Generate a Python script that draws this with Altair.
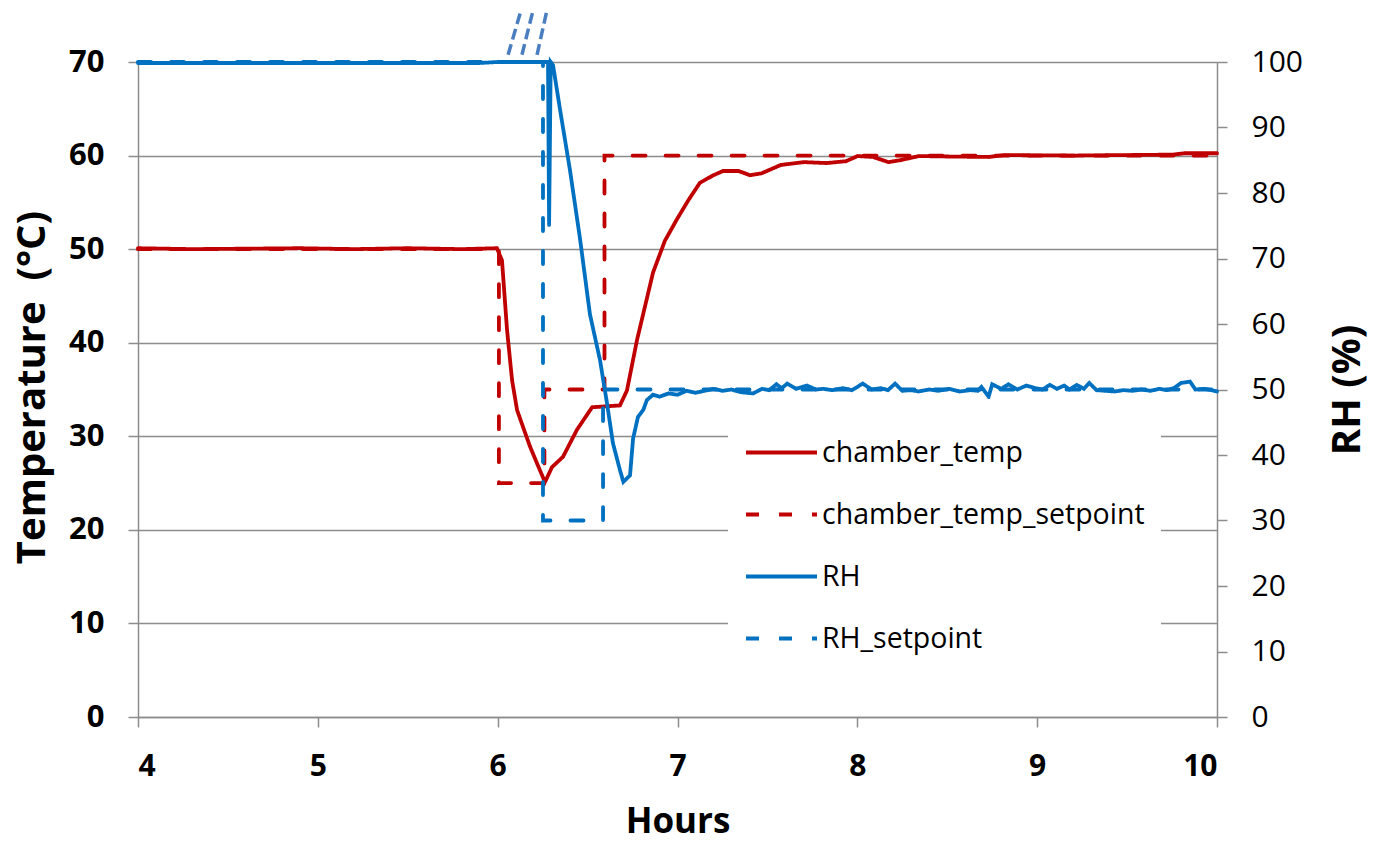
import altair as alt
import pandas as pd

# ---------------- data ----------------
series_names = ["chamber_temp", "chamber_temp_setpoint", "RH", "RH_setpoint"]
series_colors = ["#C00000", "#C00000", "#0070C0", "#0070C0"]
series_dashes = [[1, 0], [13, 20], [1, 0], [13, 20]]

temp_hours = [4.0, 4.3, 4.6, 4.9, 5.2, 5.5, 5.8, 5.996, 6.024, 6.052, 6.080, 6.108,
              6.141, 6.180, 6.219, 6.263, 6.302, 6.363, 6.441, 6.525, 6.60, 6.680,
              6.719, 6.775, 6.864, 6.93, 6.997, 7.061, 7.125, 7.20, 7.253, 7.339,
              7.403, 7.467, 7.575, 7.704, 7.831, 7.937, 8.002, 8.087, 8.173, 8.237,
              8.343, 8.50, 8.73, 8.816, 9.2, 9.755, 9.82, 10.0]
temp_values = [50.1, 50.0, 50.05, 50.1, 50.0, 50.1, 50.0, 50.1, 48.8, 41.4, 36.0, 32.8,
               31.0, 28.9, 27.1, 25.1, 26.7, 27.8, 30.7, 33.1, 33.2, 33.3,
               34.9, 40.3, 47.5, 50.9, 53.2, 55.25, 57.1, 57.9, 58.35, 58.35,
               57.9, 58.1, 59.0, 59.3, 59.2, 59.4, 59.95, 59.85, 59.3, 59.5,
               59.95, 59.9, 59.85, 60.05, 60.0, 60.1, 60.25, 60.25]

temp_sp_hours = [4.0, 6.007, 6.007, 6.26, 6.26, 6.594, 6.594, 10.0]
temp_sp_values = [50, 50, 25, 25, 35, 35, 60, 60]

rh_hours = [4.0, 5.9, 6.0, 6.28, 6.286, 6.295, 6.308, 6.347, 6.402, 6.458, 6.513,
            6.569, 6.608, 6.641, 6.680, 6.699, 6.736, 6.753, 6.780, 6.81, 6.83,
            6.864, 6.90, 6.95, 7.00, 7.05, 7.10, 7.15, 7.20, 7.25, 7.30, 7.35,
            7.42, 7.47, 7.51, 7.55, 7.58, 7.61, 7.66, 7.72, 7.77, 7.81, 7.86,
            7.92, 7.97, 8.03, 8.08, 8.13, 8.17, 8.21, 8.25, 8.30, 8.34, 8.40,
            8.45, 8.51, 8.57, 8.63, 8.67, 8.69, 8.73, 8.75, 8.80, 8.84, 8.89,
            8.94, 8.99, 9.03, 9.07, 9.11, 9.15, 9.18, 9.22, 9.26, 9.29, 9.33,
            9.38, 9.43, 9.48, 9.53, 9.58, 9.63, 9.68, 9.72, 9.76, 9.80, 9.85,
            9.88, 9.93, 9.97, 10.0]
rh_values = [99.85, 99.85, 100.0, 100.0, 75.1, 100.0, 99.5, 92.7, 83.5, 73.0, 61.5,
             54.5, 47.9, 41.8, 37.7, 35.9, 36.9, 42.5, 45.8, 46.9, 48.4,
             49.2, 48.9, 49.4, 49.2, 49.8, 49.5, 49.8, 50.1, 49.8, 50.0, 49.6,
             49.4, 50.1, 49.9, 50.8, 50.2, 50.9, 50.1, 50.6, 50.0, 50.1, 49.9,
             50.2, 49.9, 50.9, 50.0, 50.2, 49.9, 50.9, 49.8, 49.9, 49.7, 50.0,
             49.8, 50.1, 49.7, 49.9, 49.8, 50.4, 48.9, 50.8, 50.1, 50.8, 50.0,
             50.6, 50.2, 50.0, 50.7, 50.1, 50.6, 50.0, 50.7, 50.1, 51.0, 49.9,
             49.8, 49.7, 49.9, 49.8, 50.0, 49.8, 50.1, 49.9, 50.2, 51.0, 51.2,
             50.0, 50.1, 49.9, 49.7]

rh_sp_hours = [4.0, 6.252, 6.252, 6.586, 6.586, 10.0]
rh_sp_values = [100, 100, 30, 30, 50, 50]

slash_hours_start = [6.058, 6.135, 6.219]
slash_hours_end = [6.130, 6.197, 6.274]
slash_rh_start = [101.1, 101.1, 101.1]
slash_rh_end = [107.9, 107.9, 107.9]

x_ticks = [4, 5, 6, 7, 8, 9, 10]
temp_ticks = [0, 10, 20, 30, 40, 50, 60, 70]
rh_ticks = [0, 10, 20, 30, 40, 50, 60, 70, 80, 90, 100]


def frame(name, hours, values):
    return pd.DataFrame({"hours": hours, "value": values, "series": name,
                         "idx": list(range(len(hours)))})


temp_df = pd.concat([frame("chamber_temp", temp_hours, temp_values),
                     frame("chamber_temp_setpoint", temp_sp_hours, temp_sp_values)])
# setpoint first so the measured RH line is drawn on top of it
rh_df = pd.concat([frame("RH_setpoint", rh_sp_hours, rh_sp_values),
                   frame("RH", rh_hours, rh_values)])
slash_df = pd.DataFrame({"hours": slash_hours_start, "hours_end": slash_hours_end,
                         "value": slash_rh_start, "value_end": slash_rh_end})

FONT = "Open Sans"
GREY = "#8c8c8c"

legend = alt.Legend(title=None, orient="none", legendX=590, legendY=337, padding=16,
                    fillColor="white", symbolType="stroke", symbolSize=5041,
                    symbolStrokeWidth=4, labelFont=FONT, labelFontSize=28.5,
                    labelColor="black", labelLimit=600, rowPadding=10, labelOffset=3)

color = alt.Color("series:N", scale=alt.Scale(domain=series_names, range=series_colors),
                  legend=legend)
dash = alt.StrokeDash("series:N", scale=alt.Scale(domain=series_names, range=series_dashes),
                      legend=legend)

common_axis = dict(labelFont=FONT, labelColor="black", tickColor=GREY, tickWidth=1.5,
                   tickSize=10, domainColor=GREY, domainWidth=1.5, titleFont=FONT,
                   titleFontWeight="bold", titleColor="black", labelPadding=24)

x_enc = alt.X("hours:Q", scale=alt.Scale(domain=[4, 10], nice=False, zero=False),
              axis=alt.Axis(values=x_ticks, title="Hours", grid=False, labelFontSize=30,
                            labelFontWeight="bold", titleFontSize=35, titleX=539.5,
                            titleY=104, titleBaseline="middle", **common_axis))

y_temp = alt.Y("value:Q", scale=alt.Scale(domain=[0, 70], nice=False),
               axis=alt.Axis(values=temp_ticks, orient="left",
                             title="Temperature\u00a0 (°C)",
                             grid=True, gridColor=GREY, gridWidth=1.5, labelFontSize=31,
                             labelFontWeight="bold", titleFontSize=40, titleAngle=270,
                             titleX=-106, titleY=325, titleAlign="center",
                             titleBaseline="middle", **common_axis))

y_rh = alt.Y("value:Q", scale=alt.Scale(domain=[0, 100], nice=False),
             axis=alt.Axis(values=rh_ticks, orient="right", title="RH (%)", grid=False,
                           labelFontSize=30, labelFontWeight="normal", titleFontSize=40,
                           titleAngle=270, titleX=130, titleY=327.5, titleAlign="center",
                           titleBaseline="middle", **common_axis))

temp_chart = alt.Chart(temp_df).mark_line(strokeWidth=3.8, strokeCap="round").encode(
    x=x_enc, y=y_temp, color=color, strokeDash=dash, order=alt.Order("idx:Q"))

rh_lines = alt.Chart(rh_df).mark_line(strokeWidth=3.8, strokeCap="round").encode(
    x=x_enc, y=y_rh, color=color, strokeDash=dash, order=alt.Order("idx:Q"))

slashes = alt.Chart(slash_df).mark_rule(color="#4a7ec0", strokeWidth=3.5,
                                        strokeDash=[11, 5]).encode(
    x=x_enc, x2="hours_end:Q", y=y_rh, y2="value_end:Q")

rh_chart = alt.layer(rh_lines, slashes)

chart = alt.layer(temp_chart, rh_chart).resolve_scale(y="independent").properties(
    width=1079, height=655,
    autosize=alt.AutoSizeParams(type="none"),
    padding={"left": 138, "top": 62, "right": 157, "bottom": 124},
).configure_view(strokeWidth=0).configure(background="white")

chart.save("out.html", embed_options={"renderer": "svg", "actions": False})
